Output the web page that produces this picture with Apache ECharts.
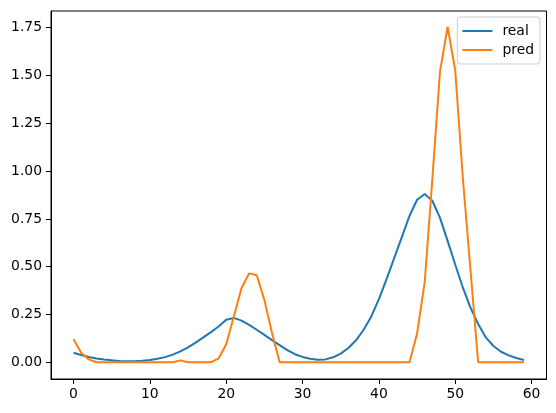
<!DOCTYPE html>
<html>
<head>
<meta charset="utf-8">
<script src="https://cdn.jsdelivr.net/npm/echarts@6/dist/echarts.min.js"></script>
<style>
html,body{margin:0;padding:0;background:#fff;}
#c{width:556px;height:413px;}
</style>
</head>
<body>
<div id="c"></div>
<script>
const seriesNames = ['real', 'pred'];
const realValues = [
  0.05, 0.038, 0.028, 0.02, 0.014, 0.01, 0.007, 0.006, 0.006, 0.008,
  0.012, 0.018, 0.027, 0.04, 0.057, 0.078, 0.103, 0.13, 0.158, 0.187,
  0.222, 0.232, 0.218, 0.196, 0.17, 0.143, 0.116, 0.09, 0.064, 0.042,
  0.028, 0.018, 0.013, 0.015, 0.026, 0.045, 0.075, 0.115, 0.17, 0.24,
  0.33, 0.435, 0.545, 0.655, 0.765, 0.85, 0.88, 0.845, 0.755, 0.635,
  0.51, 0.39, 0.285, 0.2, 0.13, 0.085, 0.055, 0.036, 0.022, 0.012
];
const predValues = [
  0.12, 0.05, 0.015, 0, 0, 0, 0, 0, 0, 0,
  0, 0, 0, 0, 0.01, 0, 0, 0, 0, 0.02,
  0.094, 0.24, 0.387, 0.465, 0.455, 0.325, 0.153, 0, 0, 0,
  0, 0, 0, 0, 0, 0, 0, 0, 0, 0,
  0, 0, 0, 0, 0, 0.15, 0.42, 0.96, 1.52, 1.755,
  1.525, 0.96, 0.48, 0, 0, 0, 0, 0, 0, 0
];
const xTicks = [0, 10, 20, 30, 40, 50, 60];
const yTicks = [0, 0.25, 0.5, 0.75, 1.0, 1.25, 1.5, 1.75];

const toPairs = arr => arr.map((v, i) => [i, v]);
const font = 'DejaVu Sans';
const chart = echarts.init(document.getElementById('c'), null, {renderer: 'canvas'});
chart.setOption({
  animation: false,
  backgroundColor: '#fff',
  grid: {left: 51, right: 9.5, top: 11, bottom: 34, show: true, borderColor: '#000', borderWidth: 1, backgroundColor: 'transparent'},
  xAxis: {
    type: 'value', min: -2.95, max: 61.95,
    splitLine: {show: false},
    axisLine: {show: true, onZero: false, lineStyle: {color: '#000', width: 1}},
    axisTick: {show: true, length: 5, inside: false, lineStyle: {color: '#000', width: 1}, customValues: xTicks},
    axisLabel: {color: '#000', fontFamily: font, fontSize: 13.9, margin: 8, customValues: xTicks, formatter: v => String(v)}
  },
  yAxis: {
    type: 'value', min: -0.0875, max: 1.8375,
    splitLine: {show: false},
    axisLine: {show: true, onZero: false, lineStyle: {color: '#000', width: 1}},
    axisTick: {show: true, length: 5, lineStyle: {color: '#000', width: 1}, customValues: yTicks},
    axisLabel: {color: '#000', fontFamily: font, fontSize: 13.9, margin: 9, customValues: yTicks, formatter: v => v.toFixed(2)}
  },
  legend: {
    data: seriesNames,
    orient: 'vertical',
    right: 16, top: 17,
    padding: [7, 6, 7, 5],
    icon: 'rect',
    itemWidth: 30, itemHeight: 2, itemGap: 5,
    backgroundColor: 'rgba(255,255,255,0.8)',
    borderColor: '#cccccc', borderWidth: 1, borderRadius: 3,
    textStyle: {color: '#000', fontFamily: font, fontSize: 13.9, padding: [0, 0, 0, 5]}
  },
  series: [
    {name: seriesNames[0], type: 'line', data: toPairs(realValues), symbol: 'none', showSymbol: false,
     lineStyle: {color: '#1f77b4', width: 2}, itemStyle: {color: '#1f77b4'}, z: 2},
    {name: seriesNames[1], type: 'line', data: toPairs(predValues), symbol: 'none', showSymbol: false,
     lineStyle: {color: '#ff7f0e', width: 2}, itemStyle: {color: '#ff7f0e'}, z: 3}
  ]
});
</script>
</body>
</html>
